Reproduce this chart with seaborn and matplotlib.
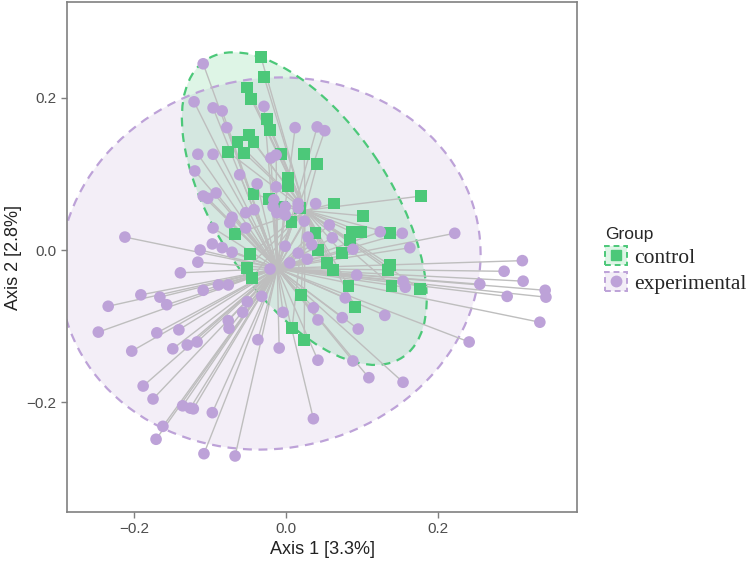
import numpy as np
import pandas as pd
import matplotlib
matplotlib.use("Agg")
import matplotlib.pyplot as plt
import seaborn as sns
from matplotlib.colors import to_rgba
from matplotlib.patches import Ellipse, Patch
from matplotlib.lines import Line2D
from matplotlib.collections import LineCollection
from matplotlib.legend_handler import HandlerTuple

# PCoA coordinates (Axis 1, Axis 2)
control_x = [-0.033, -0.029, -0.051, -0.046, -0.025, -0.021, -0.049, -0.043, -0.064, -0.076,
             -0.055, -0.007, 0.024, 0.041, 0.003, 0.003, -0.043, -0.022, 0.063, 0.101,
             0.178, 0.007, -0.067, 0.039, 0.086, 0.099, 0.137, 0.042, 0.074, 0.054,
             0.062, 0.137, 0.134, 0.082, 0.139, 0.176, 0.020, 0.091, 0.008, 0.024,
             -0.047, -0.051, -0.045, -0.005, 0.084, 0.018]
control_y = [0.254, 0.228, 0.214, 0.199, 0.172, 0.158, 0.151, 0.142, 0.142, 0.129,
             0.128, 0.126, 0.126, 0.113, 0.095, 0.084, 0.074, 0.067, 0.061, 0.045,
             0.071, 0.037, 0.021, 0.022, 0.024, 0.024, 0.022, 0.000, -0.004, -0.017,
             -0.026, -0.020, -0.026, -0.047, -0.047, -0.051, -0.059, -0.075, -0.103, -0.118,
             -0.005, -0.024, -0.037, 0.057, 0.013, 0.055]

exp_x = [-0.109, -0.121, -0.096, -0.084, -0.029, -0.078, 0.012, 0.041, 0.051, -0.116,
         -0.096, -0.020, -0.013, -0.120, -0.061, -0.038, -0.013, -0.109, -0.103, -0.092,
         -0.053, -0.042, -0.071, -0.074, -0.016, -0.017, -0.001, -0.012, -0.001, 0.016,
         0.016, 0.039, 0.024, 0.057, -0.053, -0.096, -0.097, -0.084, -0.113, -0.071,
         0.124, 0.153, 0.222, 0.029, 0.061, -0.001, 0.034, 0.163, 0.088, 0.016,
         0.028, 0.005, -0.021, 0.093, 0.154, 0.157, 0.255, 0.311, 0.287, 0.312,
         0.341, 0.291, 0.342, 0.334, 0.078, 0.036, 0.130, -0.004, -0.116, -0.109,
         -0.089, -0.076, -0.032, -0.051, -0.057, 0.042, 0.074, 0.095, -0.076, -0.075,
         -0.037, -0.009, -0.117, -0.130, -0.212, -0.139, -0.191, -0.166, -0.157, -0.234,
         -0.247, -0.170, -0.141, -0.203, -0.149, -0.188, -0.175, -0.136, -0.126, -0.122,
         -0.097, -0.162, -0.171, -0.108, -0.067, 0.241, 0.042, 0.088, 0.109, 0.154,
         0.036]
exp_y = [0.245, 0.195, 0.187, 0.183, 0.189, 0.161, 0.161, 0.162, 0.157, 0.126,
         0.126, 0.121, 0.125, 0.104, 0.099, 0.087, 0.083, 0.071, 0.068, 0.075,
         0.049, 0.053, 0.043, 0.036, 0.066, 0.057, 0.057, 0.049, 0.046, 0.061,
         0.055, 0.061, 0.038, 0.033, 0.029, 0.029, 0.008, 0.003, 0.000, -0.003,
         0.024, 0.022, 0.022, 0.017, 0.016, 0.005, 0.007, 0.003, 0.001, -0.004,
         -0.012, -0.017, -0.025, -0.033, -0.041, -0.049, -0.045, -0.014, -0.028, -0.041,
         -0.053, -0.061, -0.062, -0.095, -0.063, -0.076, -0.086, -0.082, -0.016, -0.053,
         -0.046, -0.046, -0.061, -0.068, -0.082, -0.092, -0.089, -0.104, -0.093, -0.103,
         -0.118, -0.129, -0.121, -0.125, 0.017, -0.030, -0.059, -0.062, -0.072, -0.074,
         -0.108, -0.109, -0.105, -0.133, -0.130, -0.179, -0.196, -0.205, -0.208, -0.209,
         -0.214, -0.232, -0.249, -0.268, -0.271, -0.121, -0.145, -0.146, -0.168, -0.174,
         -0.222]

groups = ["control", "experimental"]
palette = {"control": "#4cc879", "experimental": "#bda2d8"}
markers = {"control": "s", "experimental": "o"}

df = pd.concat([
    pd.DataFrame({"Axis1": control_x, "Axis2": control_y, "Group": "control"}),
    pd.DataFrame({"Axis1": exp_x, "Axis2": exp_y, "Group": "experimental"}),
], ignore_index=True)

sns.set_theme(style="ticks")
plt.rcParams["font.family"] = ["Liberation Sans", "DejaVu Sans"]

fig = plt.figure(figsize=(7.51, 5.61), dpi=100)
ax = fig.add_axes([67 / 751, 1 - 512 / 561, 510 / 751, 510 / 561])

# sqrt(2 * F(0.95; 2, n-1)) for the two group sizes
F_SCALE = {"control": 2.531, "experimental": 2.481}


def trob(xy, nu=5, iters=100):
    # multivariate-t robust location/scatter (like MASS::cov.trob)
    n, p = xy.shape
    w = np.ones(n)
    for _ in range(iters):
        m = (w[:, None] * xy).sum(0) / w.sum()
        d = xy - m
        cov = (w[:, None] * d).T @ d / n
        dist = np.einsum("ij,jk,ik->i", d, np.linalg.inv(cov), d)
        w_new = (nu + p) / (nu + dist)
        if np.allclose(w_new, w, atol=1e-8):
            break
        w = w_new
    return m, cov


def ellipse_params(x, y, k):
    m, cov = trob(np.column_stack([x, y]))
    vals, vecs = np.linalg.eigh(cov)
    order = vals.argsort()[::-1]
    vals, vecs = vals[order], vecs[:, order]
    angle = np.degrees(np.arctan2(vecs[1, 0], vecs[0, 0]))
    return m[0], m[1], 2 * k * np.sqrt(vals[0]), 2 * k * np.sqrt(vals[1]), angle


# ellipses
for g in ["experimental", "control"]:
    sub = df[df["Group"] == g]
    cx, cy, w, h, ang = ellipse_params(sub["Axis1"].values, sub["Axis2"].values, F_SCALE[g])
    ax.add_patch(Ellipse((cx, cy), w, h, angle=ang, facecolor=to_rgba(palette[g], 0.18),
                         edgecolor="none", zorder=1))
    ax.add_patch(Ellipse((cx, cy), w, h, angle=ang, facecolor="none",
                         edgecolor=palette[g], linestyle=(0, (4, 3)), lw=1.6, zorder=1.5))

# spider lines to group centroid
for g in groups:
    sub = df[df["Group"] == g]
    cx, cy = sub["Axis1"].mean(), sub["Axis2"].mean()
    segs = [[(cx, cy), (px, py)] for px, py in zip(sub["Axis1"], sub["Axis2"])]
    ax.add_collection(LineCollection(segs, colors="#bebebe", linewidths=1, zorder=2))

sns.scatterplot(data=df, x="Axis1", y="Axis2", hue="Group", style="Group",
                palette=palette, markers=markers, s=70, linewidth=0,
                legend=False, ax=ax, zorder=3)

ax.set_xlim(-0.2882, 0.3829)
ax.set_ylim(-0.3447, 0.3263)
ax.set_xticks([-0.2, 0.0, 0.2])
ax.set_yticks([-0.2, 0.0, 0.2])
ax.set_xticklabels(["\u22120.2", "0.0", "0.2"])
ax.set_yticklabels(["\u22120.2", "0.0", "0.2"])
ax.tick_params(length=4, width=1, color="#7f7f7f", labelcolor="#4d4d4d", labelsize=11)
for sp in ax.spines.values():
    sp.set_visible(True)
    sp.set_color("#808080")
    sp.set_linewidth(1.2)
ax.set_xlabel("Axis 1 [3.3%]", fontsize=13, color="#222222", labelpad=3)
ax.set_ylabel("Axis 2 [2.8%]", fontsize=13, color="#222222", labelpad=3)

# legend keys: dashed filled box with the group marker on top
handles = []
for g in groups:
    box = Patch(facecolor=to_rgba(palette[g], 0.18), edgecolor=palette[g],
                linestyle=(0, (3, 2)), lw=1.4)
    mk = Line2D([], [], marker=markers[g], color=palette[g], linestyle="", markersize=7.5)
    handles.append((box, mk))
leg = fig.legend(handles, groups, handler_map={tuple: HandlerTuple(ndivide=1, pad=0)},
                 loc="upper left", bbox_to_anchor=(0.780, 0.630), frameon=False,
                 handlelength=1.0, handleheight=0.95, handletextpad=0.35, labelspacing=0.2,
                 prop={"family": ["Liberation Serif", "DejaVu Serif"], "size": 15.5})
leg.set_title("Group", prop={"family": ["Liberation Sans", "DejaVu Sans"], "size": 12.5})
leg._legend_box.align = "left"

fig.savefig("out.png", dpi=100)
